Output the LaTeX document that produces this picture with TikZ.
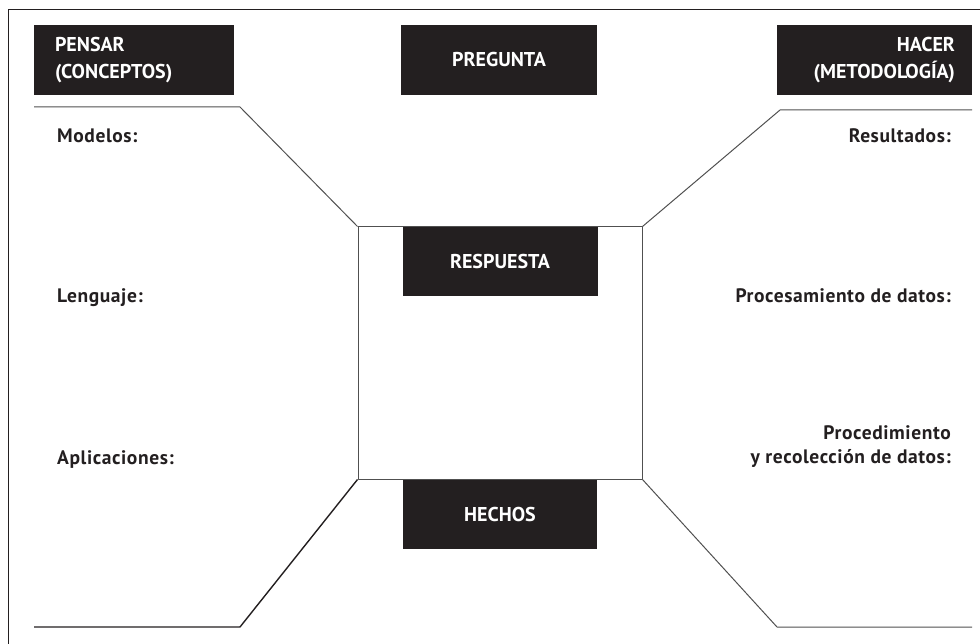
\documentclass[tikz,border=0pt]{standalone}
\usepackage{fontspec}
\setmainfont{PT Sans}
\newfontfamily\rotulo[LetterSpace=3]{PT Sans}
\usetikzlibrary{positioning}
\definecolor{tinta}{HTML}{231F20}
\definecolor{trazo}{HTML}{505050}

\begin{document}
\begin{tikzpicture}[x=1pt,y=-1pt, line join=round,
    titulo/.style={fill=tinta, text=white, font=\bfseries\fontsize{20}{27}\selectfont,
      minimum height=70pt, inner ysep=0pt},
    etiqueta/.style={text=tinta, font=\rotulo\bfseries\fontsize{19.5}{24}\selectfont, inner sep=0pt},
    linea/.style={draw=trazo, line width=1pt}]
		\useasboundingbox (0,0) rectangle (980,644);
		% marco
		\draw[draw=tinta, line width=1pt] (980,10) -- (8,10) -- (8,644);
		% cajas negras
		\node[titulo, text width=158pt, inner xsep=21pt, align=left] (pensar) at (134,60) {PENSAR\\(CONCEPTOS)};
		\node[titulo, minimum width=196pt] (pregunta) at (499,60) {PREGUNTA};
		\node[titulo, text width=161pt, inner xsep=17pt, align=right] (hacer) at (874.5,60) {HACER\\(METODOLOGÍA)};
		\node[draw=trazo, line width=1pt, minimum width=284pt, minimum height=252pt] (cuadro) at (500,353) {};
		\node[titulo, minimum width=195pt, minimum height=69pt, anchor=north] (respuesta) at (cuadro.north) {RESPUESTA};
		\node[titulo, minimum width=194pt, minimum height=69pt, anchor=north] (hechos) at (cuadro.south) {HECHOS};
		% lineas de la V
		\path (34,107) coordinate (a1) (240,107) coordinate (a2)
			(972,110) coordinate (b1) (780,110) coordinate (b2)
			(34,627) coordinate (c1) (240,627) coordinate (c2)
			(972,627) coordinate (d1) (777,627) coordinate (d2);
		\draw[linea] (a1) -- (a2) -- (cuadro.north west);
		\draw[linea] (b1) -- (b2) -- (cuadro.north east);
		\draw[linea, draw=tinta, line width=1.4pt] (c1) -- (c2) -- (cuadro.south west);
		\draw[linea] (d1) -- (d2) -- (cuadro.south east);
		% etiquetas
		\foreach \nom/\y/\txt in {mod/143/Modelos:, len/303/Lenguaje:, apl/464/Aplicaciones:}
		\node[etiqueta, anchor=base west] (\nom) at (57,\y) {\txt};
		\foreach \nom/\y/\txt in {res/143/Resultados:, pro/303/Procesamiento de datos:}
		\node[etiqueta, anchor=base east] (\nom) at (951,\y) {\txt};
		\node[etiqueta, anchor=base east, align=right] (rec) at (951,463) {Procedimiento\\y recolección de datos:};
\end{tikzpicture}
\end{document}
